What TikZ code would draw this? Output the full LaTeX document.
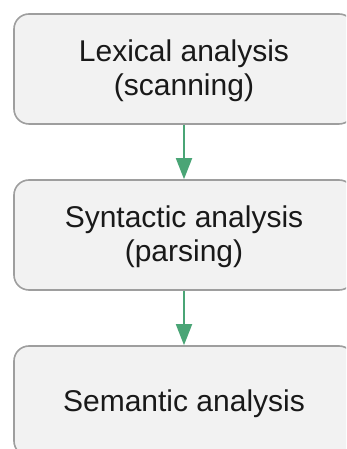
\documentclass[tikz,border=0pt]{standalone}
\usepackage{fontspec}
\setmainfont{Liberation Sans}
\usetikzlibrary{arrows.meta}
\definecolor{boxfill}{HTML}{F2F2F2}
\definecolor{boxline}{HTML}{9E9E9E}
\definecolor{flow}{HTML}{4AA576}
\tikzset{
  stage/.style={draw=boxline, line width=1.6pt, fill=boxfill, rounded corners=15pt,
    minimum width=340pt, minimum height=110pt, inner sep=0pt},
  caption/.style={inner sep=0pt, align=center,
    font=\fontsize{30pt}{34pt}\selectfont, text=black!90},
  flowarrow/.style={draw=flow, line width=1.8pt, -{Triangle[length=21pt,width=16pt]}}
}
\begin{document}
\begin{tikzpicture}[x=1pt,y=1pt]
  \useasboundingbox (0,0) rectangle (346,449);
  \clip (0,0) rectangle (346,449);
  % the three stages
  \node[stage] (lex) at (184,380) {};
  \node[stage] (syn) at (184,214) {};
  \node[stage] (sem) at (184,48) {};
  % their captions, set a little below each centre
  \node[caption] (lexT) at ([yshift=-2pt]lex.center) {Lexical analysis\\(scanning)};
  \node[caption] (synT) at ([yshift=-2pt]syn.center) {Syntactic analysis\\(parsing)};
  \node[caption] (semT) at ([yshift=-3pt]sem.center) {Semantic analysis};
  % flow between stages
  \draw[flowarrow] (lex.south) -- (syn.north);
  \draw[flowarrow] (syn.south) -- (sem.north);
\end{tikzpicture}
\end{document}
